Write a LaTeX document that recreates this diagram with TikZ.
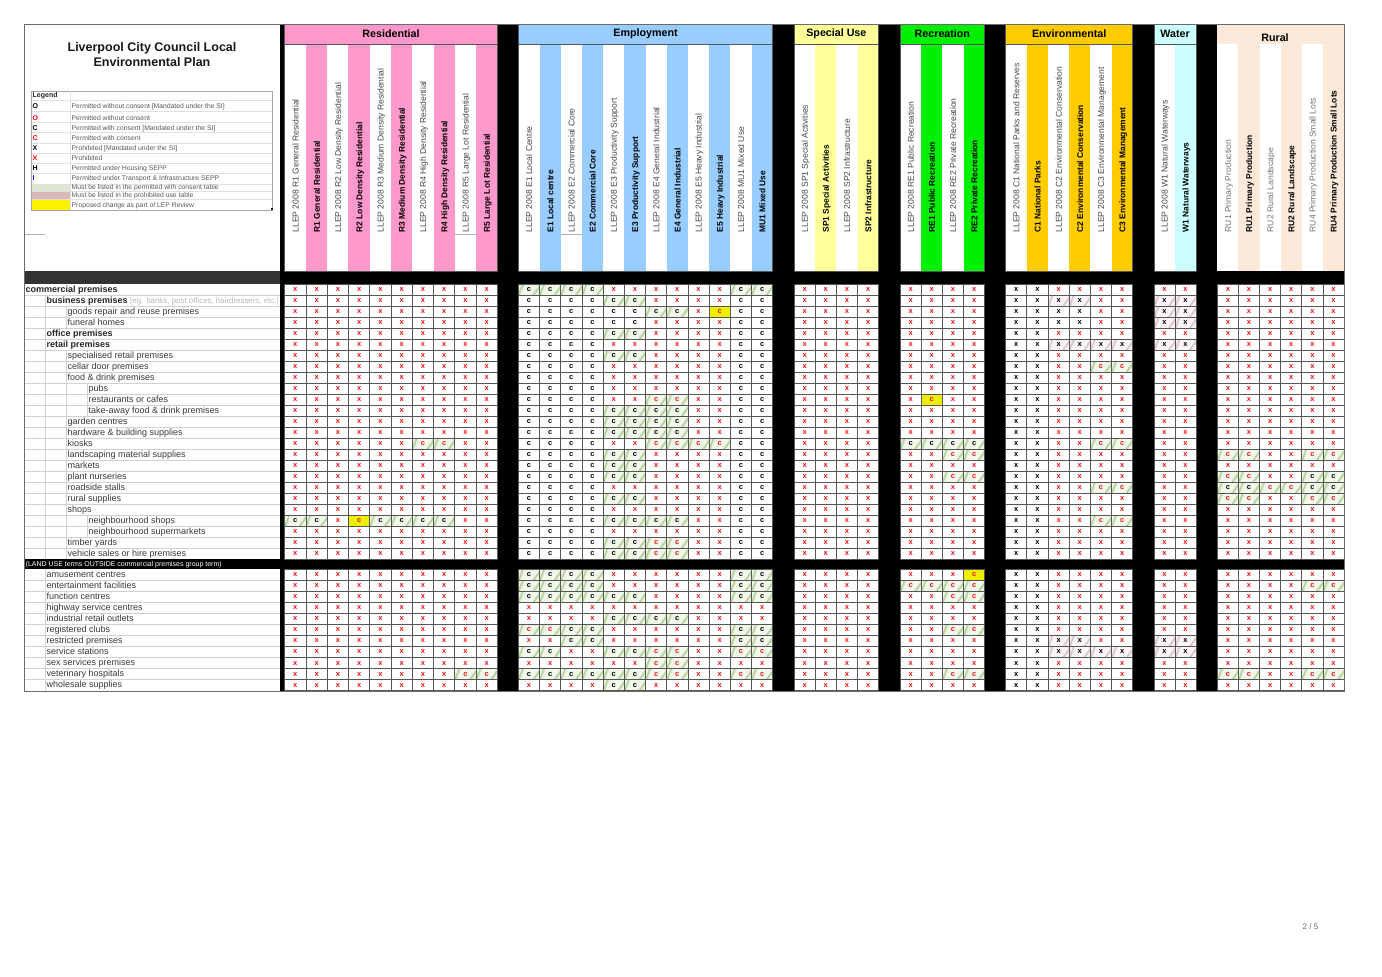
\documentclass[tikz,border=0pt]{standalone}
\usepackage{fontspec}
\setmainfont{Liberation Sans}
\definecolor{cRes}{HTML}{FF99CC}
\definecolor{cEmp}{HTML}{99CCFF}
\definecolor{cSpe}{HTML}{FFFF99}
\definecolor{cRec}{HTML}{00F000}
\definecolor{cEnv}{HTML}{FFCC00}
\definecolor{cWat}{HTML}{CCFFFF}
\definecolor{cRur}{HTML}{FDE9D9}
\definecolor{gridc}{HTML}{555555}
\definecolor{labc}{HTML}{3A3A3A}
\definecolor{frame}{HTML}{6A6A6A}
\definecolor{greenL}{HTML}{DCEACD}
\definecolor{greenD}{HTML}{B2D09A}
\definecolor{pinkL}{HTML}{F0E6EA}
\definecolor{pinkD}{HTML}{D6C2C9}
\definecolor{legG}{HTML}{E0E8D4}
\definecolor{legP}{HTML}{D9B8B8}
\definecolor{redc}{HTML}{F01010}
\definecolor{cellY}{HTML}{EEEE00}
\newcommand\fs[1]{\fontsize{#1}{#1}\selectfont}
\tikzset{
  gridl/.style={draw=gridc,line width=0.8pt},
  cellmark/.style={inner sep=0pt,font=\fs{7.5}\bfseries},
  ruleline/.style={draw=black!18,line width=0.6pt},
  rowtext/.style={anchor=base west,inner sep=0pt,text=labc,font=\fs{9}},
  rowbold/.style={anchor=base west,inner sep=0pt,text=black!85,font=\fs{9}\bfseries},
  headtext/.style={inner sep=0pt,text=black,font=\fs{10.7}\bfseries},
  zoneplain/.style={rotate=90,anchor=base west,inner sep=0pt,text=black!72,font=\fs{8.55}},
  zonebold/.style={rotate=90,anchor=base west,inner sep=0pt,text=black,font=\fs{8.4}\bfseries},
  legtext/.style={anchor=base west,inner sep=0pt,text=black!65,font=\fs{6.8}},
  legsym/.style={anchor=base west,inner sep=0pt,font=\fs{7}\bfseries},
  legline/.style={draw=black!12,line width=0.5pt}
}
\newcount\colidx
\newcommand\setrowy[1]{%
  \ifnum#1<26 \pgfmathsetmacro\rt{284+(#1-1)*11}\else\pgfmathsetmacro\rt{569.3+(#1-26)*11.03}\fi
  \pgfmathsetmacro\rb{\rt+11}\pgfmathsetmacro\rc{\rt+5.5}}
\newcommand\streaks[2]{%
  \begin{scope}
    \clip (\cellL,\rt) rectangle (\cellR,\rb);
    \fill[#1!35!white] (\cellL,\rt) rectangle (\cellR,\rb);
    \draw[#1,line width=3pt] ({\cellL+0.5},\rb) -- ({\cellL+5},\rt);
    \draw[#1,line width=3pt] ({\cellR-6},\rb) -- ({\cellR+0.5},{\rt+2});
    \draw[#2,line width=1.2pt] ({\cellL+0.5},\rb) -- ({\cellL+4.5},\rt);
    \draw[#2,line width=1.2pt] ({\cellR-6},\rb) -- ({\cellR+0.5},{\rt+2});
  \end{scope}}
\def\drawcell#1{%
  \pgfmathsetmacro\cellL{\gx+\the\colidx*\gw}%
  \pgfmathsetmacro\cellR{\cellL+\gw}%
  \pgfmathsetmacro\cellC{\cellL+\gw/2}%
  \fill[white] (\cellL,\rt) rectangle (\cellR,\rb);
  \if#1g\streaks{greenL}{greenD}\fi
  \if#1r\streaks{greenL}{greenD}\fi
  \if#1p\streaks{pinkL}{pinkD}\fi
  \if#1y\fill[cellY] (\cellL,\rt) rectangle (\cellR,\rb);\fi
  \draw[gridl] (\cellL,\rt) rectangle (\cellR,\rb);
  \def\mk{c}\def\mkc{black}%
  \if#1x\def\mk{x}\def\mkc{redc}\fi
  \if#1X\def\mk{x}\fi
  \if#1p\def\mk{x}\fi
  \if#1r\def\mkc{redc}\fi
  \if#1y\def\mkc{redc}\fi
  \node[cellmark,text=\mkc] at (\cellC,\rc) {\mk};%
}
\def\parsecells#1{\ifx#1.\let\nxt\relax\else\drawcell{#1}\advance\colidx by 1 \let\nxt\parsecells\fi\nxt}
\newcommand\cellgroup[3]{\def\gx{#1}\def\gw{#2}\colidx=0 \parsecells#3.}
\newcommand\cellrow[8]{\setrowy{#1}%
  \cellgroup{284.7}{21.26}{#2}\cellgroup{518.3}{21.2}{#3}\cellgroup{794}{21.18}{#4}%
  \cellgroup{900}{21.18}{#5}\cellgroup{1005.7}{21.17}{#6}\cellgroup{1154}{21}{#7}%
  \cellgroup{1217.3}{21.12}{#8}}
% zone heading: x0, column width, colour, name, list of plain/bold pairs
\newcommand\zonegroup[6]{%
  \pgfmathsetmacro\zr{#1+#6*#2}%
  \fill[white] (#1,44) rectangle (\zr,271);
  \fill[#3] (#1,24) rectangle (\zr,44);
  \foreach \pa/\pb [count=\ii from 0] in {#5}{%
    \pgfmathsetmacro\xa{#1+2*\ii*#2}%
    \pgfmathsetmacro\xb{\xa+#2}%
    \pgfmathsetmacro\xc{\xb+#2}%
    \fill[#3] (\xb,44) rectangle (\xc,271);
    \node[zoneplain] at ({\xa+#2/2+3.2},232.5) {\pa};
    \node[zonebold] at ({\xb+#2/2+3.2},232.5) {\pb};
  }%
  \node[headtext] at ({#1+#6*#2/2},33.6) {#4};
  \draw[gridl] (#1,24) rectangle (\zr,271) (#1,44) -- (\zr,44);
}
\newcommand\rowlab[3]{\setrowy{#1}\pgfmathsetmacro\lx{25.5+#2*21}\node[rowtext] at (\lx,{\rt+8}) {#3};}
\newcommand\rowlabb[3]{\setrowy{#1}\pgfmathsetmacro\lx{25.5+#2*21}\node[rowbold] at (\lx,{\rt+8}) {#3};}
\newcommand\legrow[4]{%
  \node[legsym,text=#2] at (32.5,#1) {#3};
  \node[legtext] at (71.5,#1) {#4};}
\begin{document}
\begin{tikzpicture}[x=1pt,y=-1pt]
\useasboundingbox (0,0) rectangle (1382,977);
\fill[white] (0,0) rectangle (1382,977);
% black ground of the sheet, white left panel
\fill[black] (24,24) rectangle (1344,691);
\fill[white] (24,24) rectangle (280,271);
\fill[black!80] (24,271) rectangle (280,284);
\fill[white] (24,284) rectangle (280,559);
\fill[white] (24,569.3) rectangle (280,691);
% zone headings
\zonegroup{284.7}{21.26}{cRes}{Residential}{LLEP 2008 R1 General Residential/R1 General Residential,LLEP 2008 R2 Low Density Residential/R2 Low Density Residential,LLEP 2008 R3 Medium Density Residential/R3 Medium Density Residential,LLEP 2008 R4 High Density Residential/R4 High Density Residential,LLEP 2008 R5 Large Lot Residential/R5 Large Lot Residential}{10}
\zonegroup{518.3}{21.2}{cEmp}{Employment}{LLEP 2008 E1 Local Centre/E1 Local centre,LLEP 2008 E2 Commercial Core/E2 Commercial Core,LLEP 2008 E3 Productivity Support/E3 Productivity Support,LLEP 2008 E4 General Industrial/E4 General Industrial,LLEP 2008 E5 Heavy Industrial/E5 Heavy Industrial,LLEP 2008 MU1 Mixed Use/MU1 Mixed Use}{12}
\zonegroup{794}{21.18}{cSpe}{Special Use}{LLEP 2008 SP1 Special Activities/SP1 Special Activities,LLEP 2008 SP2 Infrastructure/SP2 Infrastructure}{4}
\zonegroup{900}{21.18}{cRec}{Recreation}{LLEP 2008 RE1 Public Recreation/RE1 Public Recreation,LLEP 2008 RE2 Private Recreation/RE2 Private Recreation}{4}
\zonegroup{1005.7}{21.17}{cEnv}{Environmental}{LLEP 2008 C1 National Parks and Reserves/C1 National Parks,LLEP 2008 C2 Environmental Conservation/C2 Environmental Conservation,LLEP 2008 C3 Environmental Management/C3 Environmental Management}{6}
\zonegroup{1154}{21}{cWat}{Water}{LLEP 2008 W1 Natural Waterways/W1 Natural Waterways}{2}
% rural heading runs into its columns, with no rule under it
\fill[white] (1217.3,44) rectangle (1344,271);
\fill[cRur] (1217.3,24) rectangle (1344,44);
\foreach \pa/\pb [count=\ii from 0] in {RU1 Primary Production/RU1 Primary Production,RU2 Rural Landscape/RU2 Rural Landscape,RU4 Primary Production Small Lots/RU4 Primary Production Small Lots}{%
  \pgfmathsetmacro\xa{1217.3+2*\ii*21.12}
  \pgfmathsetmacro\xb{\xa+21.12}
  \pgfmathsetmacro\xc{\xb+21.12}
  \fill[cRur] (\xb,44) rectangle (\xc,271);
  \node[zoneplain,text=black!55] at ({\xa+10.56+3.2},232.5) {\pa};
  \node[zonebold] at ({\xb+10.56+3.2},232.5) {\pb};
}
\node[headtext] at (1275,37.3) {Rural};
% stray cell rules in the heading
\draw[draw=black!30,line width=0.5pt] (24,234) -- (45,234);
\draw[draw=black!30,line width=0.5pt] (455,234.5) -- (476,234.5);
\draw[draw=black!30,line width=0.5pt] (561,234.5) -- (582,234.5);
% title
\node[inner sep=0pt,font=\fs{12.5}\bfseries,text=black!90,align=center] (title) at (152,54.5) {Liverpool City Council Local\\[2.5pt]Environmental Plan};
% legend
\fill[white] (31,91) rectangle (272.7,210);
\fill[legG] (31.5,184) rectangle (70,191.5);
\fill[legP] (31.5,191.5) rectangle (70,199);
\fill[yellow] (31.5,199) rectangle (70,210);
\foreach \ly in {100,111.5,122,132.5,143,153,163,173.5,184,191.5,199}{\draw[legline] (31,\ly) -- (272.7,\ly);}
\draw[draw=black!35,line width=0.6pt] (31,91) rectangle (272.7,210);
\draw[legline] (70,91) -- (70,210);
\fill[blue!70!black] (270.5,208) rectangle (272.5,210);
\node[legsym,text=black!85] at (32.5,97.5) {Legend};
\legrow{108.5}{black}{O}{Permitted without consent [Mandated under the SI]}
\legrow{120}{red}{O}{Permitted without consent}
\legrow{130}{black}{C}{Permitted with consent [Mandated under the SI]}
\legrow{140}{red}{C}{Permitted with consent}
\legrow{150.5}{black}{X}{Prohibited [Mandated under the SI]}
\legrow{160.5}{red}{X}{Prohibited}
\legrow{170.5}{black}{H}{Permitted under Housing SEPP}
\legrow{180.5}{blue!80!black}{I}{Permitted under Transport \& Infrastructure SEPP}
\node[legtext] at (71.5,189.7) {Must be listed in the permitted with consent table};
\node[legtext] at (71.5,197.7) {Must be listed in the prohibited use table};
\node[legtext] at (71.5,207.3) {Proposed change as part of LEP Review};
% land use table rules
\foreach \r in {1,...,24,26,27,...,35}{\setrowy{\r}\draw[ruleline] (24,\rb) -- (280,\rb);}
\draw[ruleline] (45.7,295) -- (45.7,559) (45.7,569.3) -- (45.7,691);
\draw[ruleline] (66.7,306) -- (66.7,328) (66.7,350) -- (66.7,559);
\draw[ruleline] (87.7,383) -- (87.7,416) (87.7,515) -- (87.7,537);
% land use terms
\rowlabb{1}{0}{commercial premises}
\setrowy{2}\node[rowbold] (biz) at (46.5,{\rt+8}) {business premises};
\node[anchor=base west,inner sep=0pt,text=black!28,font=\fs{7.9}] (bizn) at (130,{\rt+8}) {[eg. banks, post offices, hairdressers, etc.]};
\rowlab{3}{2}{goods repair and reuse premises}
\rowlab{4}{2}{funeral homes}
\rowlabb{5}{1}{office premises}
\rowlabb{6}{1}{retail premises}
\rowlab{7}{2}{specialised retail premises}
\rowlab{8}{2}{cellar door premises}
\rowlab{9}{2}{food \& drink premises}
\rowlab{10}{3}{pubs}
\rowlab{11}{3}{restaurants or cafes}
\rowlab{12}{3}{take-away food \& drink premises}
\rowlab{13}{2}{garden centres}
\rowlab{14}{2}{hardware \& building supplies}
\rowlab{15}{2}{kiosks}
\rowlab{16}{2}{landscaping material supplies}
\rowlab{17}{2}{markets}
\rowlab{18}{2}{plant nurseries}
\rowlab{19}{2}{roadside stalls}
\rowlab{20}{2}{rural supplies}
\rowlab{21}{2}{shops}
\rowlab{22}{3}{neighbourhood shops}
\rowlab{23}{3}{neighbourhood supermarkets}
\rowlab{24}{2}{timber yards}
\rowlab{25}{2}{vehicle sales or hire premises}
\node[anchor=base west,inner sep=0pt,text=white,font=\fs{7}] (landuse) at (25.5,566.5) {(LAND USE terms OUTSIDE commercial premises group term)};
\rowlab{26}{1}{amusement centres}
\rowlab{27}{1}{entertainment facilities}
\rowlab{28}{1}{function centres}
\rowlab{29}{1}{highway service centres}
\rowlab{30}{1}{industrial retail outlets}
\rowlab{31}{1}{registered clubs}
\rowlab{32}{1}{restricted premises}
\rowlab{33}{1}{service stations}
\rowlab{34}{1}{sex services premises}
\rowlab{35}{1}{veterinary hospitals}
\rowlab{36}{1}{wholesale supplies}
% permissibility matrix
\cellrow{1}{xxxxxxxxxx}{ggggxxxxxxgg}{xxxx}{xxxx}{XXxxxx}{xx}{xxxxxx}
\cellrow{2}{xxxxxxxxxx}{ccccggxxxxcc}{xxxx}{xxxx}{XXppxx}{pp}{xxxxxx}
\cellrow{3}{xxxxxxxxxx}{ccccccggxycc}{xxxx}{xxxx}{XXXXxx}{pp}{xxxxxx}
\cellrow{4}{xxxxxxxxxx}{ccccccxxxxcc}{xxxx}{xxxx}{XXXXxx}{pp}{xxxxxx}
\cellrow{5}{xxxxxxxxxx}{ccccggxxxxcc}{xxxx}{xxxx}{XXxxxx}{xx}{xxxxxx}
\cellrow{6}{xxxxxxxxxx}{ccccxxxxxxcc}{xxxx}{xxxx}{XXpppp}{pp}{xxxxxx}
\cellrow{7}{xxxxxxxxxx}{ccccggxxxxcc}{xxxx}{xxxx}{XXxxxx}{xx}{xxxxxx}
\cellrow{8}{xxxxxxxxxx}{ccccxxxxxxcc}{xxxx}{xxxx}{XXxxrr}{xx}{xxxxxx}
\cellrow{9}{xxxxxxxxxx}{ccccxxxxxxcc}{xxxx}{xxxx}{XXxxxx}{xx}{xxxxxx}
\cellrow{10}{xxxxxxxxxx}{ccccxxxxxxcc}{xxxx}{xxxx}{XXxxxx}{xx}{xxxxxx}
\cellrow{11}{xxxxxxxxxx}{ccccxxrrxxcc}{xxxx}{xyxx}{XXxxxx}{xx}{xxxxxx}
\cellrow{12}{xxxxxxxxxx}{ccccggggxxcc}{xxxx}{xxxx}{XXxxxx}{xx}{xxxxxx}
\cellrow{13}{xxxxxxxxxx}{ccccggggxxcc}{xxxx}{xxxx}{XXxxxx}{xx}{xxxxxx}
\cellrow{14}{xxxxxxxxxx}{ccccggggxxcc}{xxxx}{xxxx}{XXxxxx}{xx}{xxxxxx}
\cellrow{15}{xxxxxxrrxx}{ccccxxrrrrcc}{xxxx}{gggg}{XXxxrr}{xx}{xxxxxx}
\cellrow{16}{xxxxxxxxxx}{ccccggxxxxcc}{xxxx}{xxrr}{XXxxxx}{xx}{rrxxrr}
\cellrow{17}{xxxxxxxxxx}{ccccggxxxxcc}{xxxx}{xxxx}{XXxxxx}{xx}{xxxxxx}
\cellrow{18}{xxxxxxxxxx}{ccccggxxxxcc}{xxxx}{xxrr}{XXxxxx}{xx}{rrxxgg}
\cellrow{19}{xxxxxxxxxx}{ccccxxxxxxcc}{xxxx}{xxxx}{XXxxrr}{xx}{ggrrgg}
\cellrow{20}{xxxxxxxxxx}{ccccggxxxxcc}{xxxx}{xxxx}{XXxxxx}{xx}{rrxxrr}
\cellrow{21}{xxxxxxxxxx}{ccccxxxxxxcc}{xxxx}{xxxx}{XXxxxx}{xx}{xxxxxx}
\cellrow{22}{ggxyggggxx}{ccccggggxxcc}{xxxx}{xxxx}{XXxxrr}{xx}{xxxxxx}
\cellrow{23}{xxxxxxxxxx}{ccccxxxxxxcc}{xxxx}{xxxx}{XXxxxx}{xx}{xxxxxx}
\cellrow{24}{xxxxxxxxxx}{ccccggrrxxcc}{xxxx}{xxxx}{XXxxxx}{xx}{xxxxxx}
\cellrow{25}{xxxxxxxxxx}{ccccggrrxxcc}{xxxx}{xxxx}{XXxxxx}{xx}{xxxxxx}
\cellrow{26}{xxxxxxxxxx}{ggggxxxxxxgg}{xxxx}{xxxy}{XXxxxx}{xx}{xxxxxx}
\cellrow{27}{xxxxxxxxxx}{ggggxxxxxxgg}{xxxx}{rrrr}{XXxxxx}{xx}{xxxxrr}
\cellrow{28}{xxxxxxxxxx}{ggggggxxxxgg}{xxxx}{xxrr}{XXxxxx}{xx}{xxxxxx}
\cellrow{29}{xxxxxxxxxx}{xxxxxxxxxxxx}{xxxx}{xxxx}{XXxxxx}{xx}{xxxxxx}
\cellrow{30}{xxxxxxxxxx}{xxxxggggxxxx}{xxxx}{xxxx}{XXxxxx}{xx}{xxxxxx}
\cellrow{31}{xxxxxxxxxx}{rrggxxxxxxgg}{xxxx}{xxrr}{XXxxxx}{xx}{xxxxxx}
\cellrow{32}{xxxxxxxxxx}{xxggxxxxxxgg}{xxxx}{xxxx}{XXppxx}{pp}{xxxxxx}
\cellrow{33}{xxxxxxxxxx}{ggxxggrrxxrr}{xxxx}{xxxx}{XXpppp}{pp}{xxxxxx}
\cellrow{34}{xxxxxxxxxx}{xxxxxxrrxxxx}{xxxx}{xxxx}{XXxxxx}{xx}{xxxxxx}
\cellrow{35}{xxxxxxxxrr}{ggggggrrxxrr}{xxxx}{xxrr}{XXxxxx}{xx}{rrxxrr}
\cellrow{36}{xxxxxxxxxx}{xxxxggxxxxxx}{xxxx}{xxxx}{XXxxxx}{xx}{xxxxxx}
% sheet frame
\draw[draw=frame,line width=1pt] (24,24) rectangle (1344,691);
% page number
\node[inner sep=0pt,text=black!60,font=\fs{8}] (pageno) at (1310.5,927) {2 / 5};
\end{tikzpicture}
\end{document}
